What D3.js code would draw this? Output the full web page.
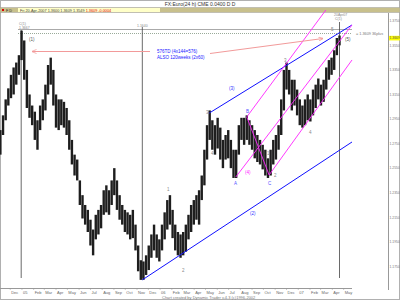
<!DOCTYPE html>
<html>
<head>
<meta charset="utf-8">
<script src="https://cdn.jsdelivr.net/npm/d3@7"></script>
<style>
body { margin: 0; background: #fff; }
svg { display: block; font-family: "Liberation Sans", Arial, sans-serif; }
</style>
</head>
<body>
<div id="my_dataviz"></div>
<script>
// weekly high / low, one bar per Friday from 5-Nov-2004 to 20-Apr-2007
var weekHigh = [1.286,1.298,1.311,1.320,1.331,1.337,1.341,1.347,1.367,1.359,
  1.335,1.315,1.306,1.301,1.294,1.306,1.311,1.323,1.339,1.345,
  1.335,1.315,1.311,1.311,1.309,1.304,1.294,1.278,1.266,1.262,
  1.245,1.233,1.225,1.221,1.213,1.205,1.217,1.221,1.225,1.237,
  1.241,1.237,1.245,1.255,1.245,1.233,1.225,1.221,1.219,1.217,
  1.221,1.209,1.192,1.180,1.179,1.184,1.192,1.201,1.209,1.201,
  1.197,1.209,1.219,1.229,1.233,1.221,1.209,1.203,1.201,1.203,
  1.209,1.217,1.225,1.229,1.233,1.237,1.249,1.270,1.290,1.302,
  1.294,1.290,1.296,1.288,1.278,1.282,1.286,1.278,1.270,1.270,
  1.290,1.296,1.296,1.298,1.294,1.290,1.286,1.282,1.278,1.274,
  1.270,1.263,1.270,1.278,1.282,1.290,1.311,1.335,1.341,1.335,
  1.327,1.327,1.319,1.311,1.306,1.311,1.315,1.311,1.319,1.323,
  1.328,1.323,1.327,1.337,1.343,1.345,1.351,1.361,1.363];
var weekLow = [1.266,1.282,1.294,1.306,1.312,1.315,1.323,1.331,1.343,1.327,
  1.304,1.296,1.290,1.278,1.270,1.286,1.294,1.302,1.315,1.323,
  1.306,1.288,1.286,1.290,1.288,1.282,1.270,1.258,1.249,1.245,
  1.225,1.214,1.209,1.203,1.192,1.184,1.197,1.201,1.206,1.217,
  1.219,1.217,1.225,1.233,1.221,1.213,1.209,1.203,1.201,1.197,
  1.198,1.188,1.171,1.164,1.164,1.168,1.172,1.182,1.188,1.182,
  1.179,1.188,1.197,1.205,1.209,1.198,1.188,1.184,1.182,1.184,
  1.187,1.197,1.203,1.209,1.213,1.209,1.229,1.241,1.262,1.278,
  1.270,1.266,1.271,1.262,1.255,1.262,1.263,1.255,1.247,1.247,
  1.266,1.278,1.274,1.278,1.274,1.270,1.263,1.260,1.258,1.254,
  1.249,1.247,1.249,1.258,1.262,1.270,1.282,1.302,1.319,1.315,
  1.302,1.306,1.298,1.290,1.288,1.290,1.294,1.293,1.298,1.304,
  1.311,1.306,1.309,1.319,1.327,1.331,1.335,1.347,1.355];

// price scale labels on the right
var yTicks = [1.375,1.355,1.335,1.315,1.295,1.275,1.255,1.235,1.215,1.195,1.175];
var monthNames = ["05","Feb","Mar","Apr","May","Jun","Jul","Aug","Sep","Oct","Nov","Dec"];

// trend lines [date, price] -> [date, price]
var blueLines = [
  [[new Date(2006,4,11), 1.2999], [new Date(2007,4,23), 1.3716]],
  [[new Date(2005,10,15), 1.1640], [new Date(2007,4,23), 1.2763]]
];
var magentaLines = [
  [[new Date(2006,7,18), 1.2967], [new Date(2007,2,15), 1.3838]],
  [[new Date(2006,7,18), 1.2967], [new Date(2006,9,16), 1.2494]],
  [[new Date(2006,6,20), 1.2478], [new Date(2007,4,23), 1.3716]],
  [[new Date(2006,9,16), 1.2494], [new Date(2007,4,23), 1.3431]]
];
var markers = [new Date(2004,11,30), new Date(2005,10,15), new Date(2007,3,20)];

var width = 400, height = 300;

var svg = d3.select("#my_dataviz")
  .append("svg")
    .attr("width", width)
    .attr("height", height);

var x = d3.scaleTime()
  .domain([new Date(2004,10,4), new Date(2007,4,23)])
  .range([0, 352]);
var y = d3.scaleLinear()
  .domain([1.1639, 1.3667])
  .range([280, 31]);

var weeks = d3.timeFriday.range(new Date(2004,10,5), new Date(2007,3,21));

// title and info bar
svg.append("rect").attr("x", 0.5).attr("y", 0.5).attr("width", 399).attr("height", 299)
  .attr("fill", "#fff").attr("stroke", "#b0b0b0");
svg.append("text").attr("x", 200).attr("y", 5.5).attr("text-anchor", "middle")
  .attr("font-size", 5).attr("fill", "#333").text("FX:Euro(24 h) CME 0.0400 D D");
svg.append("rect").attr("x", 0).attr("y", 7.5).attr("width", 400).attr("height", 5)
  .attr("fill", "#c8c08c").attr("stroke", "#a0a0a0").attr("stroke-width", 0.5);
svg.append("rect").attr("x", 18).attr("y", 8).attr("width", 142).attr("height", 4)
  .attr("fill", "#ffffc8");
svg.append("rect").attr("x", 2).attr("y", 9).attr("width", 2).attr("height", 2).attr("fill", "#d00");
svg.append("text").attr("x", 6).attr("y", 11.6).attr("font-size", 3.8).attr("fill", "#333").text("F D");
var info = svg.append("text").attr("x", 20).attr("y", 11.6).attr("font-size", 3.8).attr("fill", "#444");
info.append("tspan").text("Fri 20-Apr-2007    1.3600    1.3609    1.3549    ");
info.append("tspan").attr("fill", "#d00").text("1.3609    -0.0004");

// plot frame
svg.append("line").attr("x1", 388.5).attr("x2", 388.5).attr("y1", 13).attr("y2", 290)
  .attr("stroke", "#999");
svg.append("line").attr("x1", 0).attr("x2", 352).attr("y1", 288.5).attr("y2", 288.5)
  .attr("stroke", "#999");

// right price axis
svg.selectAll(".ylab").data(yTicks).enter().append("text")
  .attr("class", "ylab")
  .attr("x", 389.5).attr("y", function(d) { return y(d) + 1.3; })
  .attr("font-size", 3.4).attr("fill", "#777")
  .text(function(d) { return d.toFixed(4); });
svg.append("rect").attr("x", 389).attr("y", y(1.3609) - 2.3).attr("width", 11).attr("height", 4.6)
  .attr("fill", "#ffff00");
svg.append("text").attr("x", 389.5).attr("y", y(1.3609) + 1.3).attr("font-size", 3.4)
  .attr("fill", "#555").text("1.3609");

// month labels along the bottom
var months = d3.timeMonth.range(new Date(2004,11,1), new Date(2007,4,2));
svg.selectAll(".xlab").data(months).enter().append("text")
  .attr("class", "xlab")
  .attr("x", function(d) { return x(d) + 1; })
  .attr("y", 294)
  .attr("font-size", 4).attr("fill", "#666")
  .text(function(d) { return d.getMonth() == 0 ? d3.timeFormat("%y")(d) : monthNames[d.getMonth()]; });
svg.selectAll(".xtick").data(months).enter().append("line")
  .attr("x1", function(d) { return x(d); }).attr("x2", function(d) { return x(d); })
  .attr("y1", 288.5).attr("y2", 290).attr("stroke", "#999").attr("stroke-width", 0.5);
svg.append("text").attr("x", 162).attr("y", 298.5).attr("font-size", 4).attr("fill", "#777")
  .text("Chart created by Dynamic Trader v.4.3 (c)1996-2002");

// horizontal reference lines near the top
svg.append("line").attr("x1", 18).attr("x2", 352).attr("y1", 29.5).attr("y2", 29.5)
  .attr("stroke", "#aaa");
svg.append("line").attr("x1", 18).attr("x2", 352).attr("y1", 33.5).attr("y2", 33.5)
  .attr("stroke", "#9a9").attr("stroke-dasharray", "1,1");
svg.append("text").attr("x", 356).attr("y", 35).attr("font-size", 3.8).attr("fill", "#777")
  .text("= 1.3609 36plus");

// vertical time markers
svg.selectAll(".vmark").data(markers).enter().append("line")
  .attr("x1", function(d) { return x(d); }).attr("x2", function(d) { return x(d); })
  .attr("y1", function(d, i) { return [30, 27, 22][i]; }).attr("y2", 278)
  .attr("stroke", "#444").attr("stroke-width", 0.8);
svg.append("text").attr("x", 19).attr("y", 25).attr("font-size", 3.5).attr("fill", "#888").text("C(1)");
svg.append("text").attr("x", 19).attr("y", 28.5).attr("font-size", 3.5).attr("fill", "#888").text("1.3667");
svg.append("text").attr("x", 137).attr("y", 27).attr("font-size", 3.5).attr("fill", "#888").text("1.1640");
svg.append("text").attr("x", 334).attr("y", 16).attr("font-size", 3.5).attr("fill", "#888").text("20Apr07");
svg.append("text").attr("x", 335).attr("y", 20).attr("font-size", 3.5).attr("fill", "#888").text("C(1)");

// price bars
svg.selectAll(".bar").data(weeks).enter().append("rect")
  .attr("class", "bar")
  .attr("x", function(d) { return x(d) - 1.2; })
  .attr("width", 2.4)
  .attr("y", function(d, i) { return y(weekHigh[i]); })
  .attr("height", function(d, i) { return y(weekLow[i]) - y(weekHigh[i]); })
  .attr("fill", "#1e1e1e");

// trend lines
var line = d3.line().x(function(d) { return x(d[0]); }).y(function(d) { return y(d[1]); });
svg.selectAll(".blue").data(blueLines).enter().append("path")
  .attr("d", line).attr("stroke", "#1010ff").attr("stroke-width", 1).attr("fill", "none");
svg.selectAll(".mag").data(magentaLines).enter().append("path")
  .attr("d", line).attr("stroke", "#ff22ff").attr("stroke-width", 0.9).attr("fill", "none");

// pink time arrows and note
svg.append("defs").append("marker").attr("id", "arr")
  .attr("viewBox", "0 0 10 10").attr("refX", 9).attr("refY", 5)
  .attr("markerWidth", 5).attr("markerHeight", 5).attr("orient", "auto-start-reverse")
  .append("path").attr("d", "M0,1L10,5L0,9").attr("fill", "none").attr("stroke", "#f29a9a").attr("stroke-width", 1.5);
svg.append("line").attr("x1", 32).attr("y1", 51.5).attr("x2", 150).attr("y2", 51.5)
  .attr("stroke", "#f29a9a").attr("marker-start", "url(#arr)");
svg.append("line").attr("x1", 210).attr("y1", 53.5).attr("x2", 323).attr("y2", 38.5)
  .attr("stroke", "#f29a9a").attr("marker-end", "url(#arr)");
svg.append("text").attr("x", 157).attr("y", 53).attr("font-size", 4.5).attr("fill", "#2020ff")
  .text("576TD (4x144=576)");
svg.append("text").attr("x", 157).attr("y", 58.5).attr("font-size", 4.5).attr("fill", "#2020ff")
  .text("ALSO 120weeks (2x60)");

// wave labels
var waveLabels = [
  ["(1)", 29, 41, "#555"], ["(3)", 229, 90, "#3030ff"], ["(2)", 250, 215, "#3030ff"],
  ["(4)", 245, 174, "#ff22ff"], ["(5)", 345, 41, "#555"],
  ["1", 167, 191, "#888"], ["2", 182, 272, "#888"], ["3", 206, 114, "#888"], ["4", 211, 155, "#888"],
  ["A", 234, 185, "#5050ff"], ["B", 246, 113, "#5050ff"], ["C", 268, 185, "#5050ff"],
  ["1", 267, 155, "#888"], ["2", 274, 177, "#888"], ["3", 284, 62, "#888"], ["4", 309, 134, "#888"],
  ["5", 331, 31, "#888"]
];
svg.selectAll(".wave").data(waveLabels).enter().append("text")
  .attr("x", function(d) { return d[1]; }).attr("y", function(d) { return d[2]; })
  .attr("font-size", 4.5).attr("fill", function(d) { return d[3]; })
  .text(function(d) { return d[0]; });
</script>
</body>
</html>
